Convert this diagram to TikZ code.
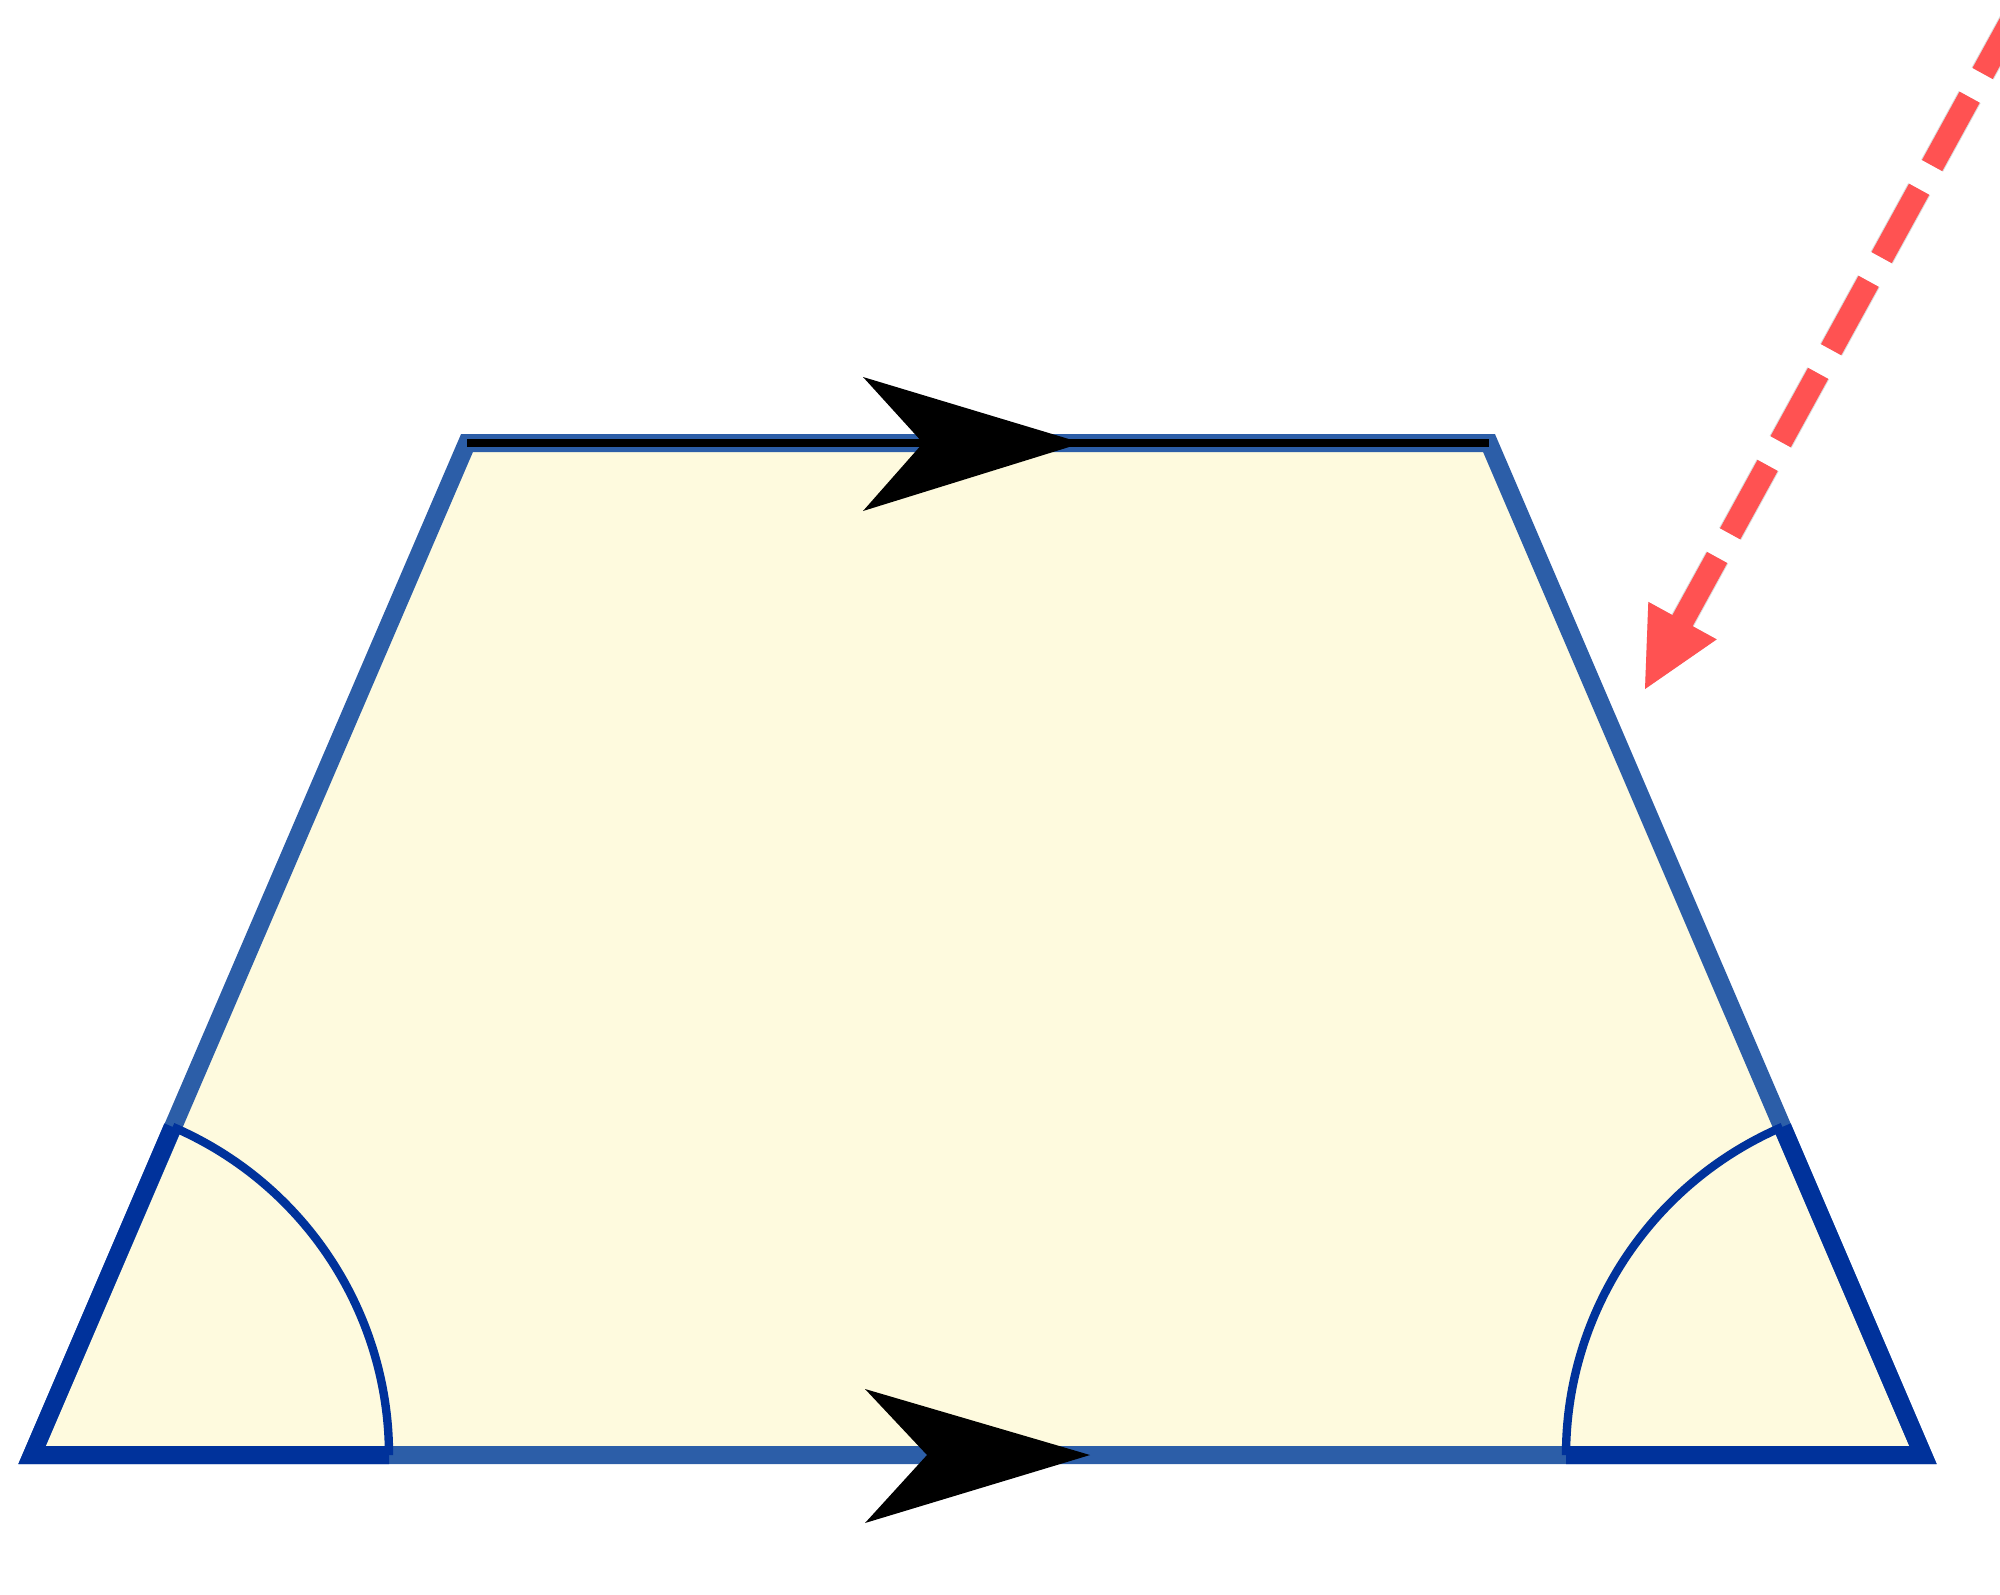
\documentclass[tikz,border=0pt]{standalone}
\usetikzlibrary{calc}
\definecolor{trapblue}{RGB}{44,94,168}
\definecolor{navyblue}{RGB}{0,50,155}
\definecolor{cream}{RGB}{254,250,222}
\definecolor{redarrow}{RGB}{255,82,82}
\tikzset{
  edgeline/.style={trapblue, line width=9pt, line join=miter},
  anglearc/.style={navyblue, line width=4.2pt},
  angleedge/.style={navyblue, line width=9pt, line join=miter},
  parmark/.style={fill=black},
  reddash/.style={redarrow, line width=11.5pt, dash pattern=on 39pt off 13.5pt},
  shadowdash/.style={black, opacity=0.15, line width=12.5pt, dash pattern=on 39pt off 13.5pt},
}
\begin{document}
\begin{tikzpicture}[x=0.5pt,y=-0.5pt]
\useasboundingbox (0,0) rectangle (2000,1594);
% trapezoid vertices
\coordinate (A) at (32,1455);
\coordinate (B) at (1923,1455);
\coordinate (C) at (1489,443);
\coordinate (D) at (467,443);
\fill[cream] (A)--(B)--(C)--(D)--cycle;
\draw[edgeline] (A)--(B)--(C)--(D)--cycle;
\draw[black, line width=4pt] (D)--(C);
% angle marks
\draw[angleedge] ($(A)+(357,0)$) -- (A) -- ($(A)+(-66.8:357)$);
\draw[anglearc] ($(A)+(357,0)$) arc[start angle=0, end angle=-66.8, radius=357];
\draw[angleedge] ($(B)+(-357,0)$) -- (B) -- ($(B)+(246.8:357)$);
\draw[anglearc] ($(B)+(-357,0)$) arc[start angle=180, end angle=246.8, radius=357];
% parallel marks
\fill[parmark] (1082,443) -- (863,377) -- (923,443) -- (863,511) -- cycle;
\fill[parmark] (1090,1455) -- (865,1389) -- (927,1455) -- (865,1523) -- cycle;
% red dashed arrow
\coordinate (T) at (1645,689);
\coordinate (S) at (2029.8,-12.6);
\coordinate (Bs) at ($(T)!39pt!(S)$);
\coordinate (Bstart) at ($(T)!36pt!(S)$);
\coordinate (W1) at ($(Bs)!19.5pt!90:(S)$);
\coordinate (W2) at ($(Bs)!19.5pt!-90:(S)$);
\begin{scope}[shift={(5,6)}]
  \draw[shadowdash] (Bstart) -- (S);
  \fill[black, opacity=0.15] (T) -- (W1) -- (W2) -- cycle;
\end{scope}
\draw[reddash] (Bstart) -- (S);
\fill[redarrow] (T) -- (W1) -- (W2) -- cycle;
\end{tikzpicture}
\end{document}
